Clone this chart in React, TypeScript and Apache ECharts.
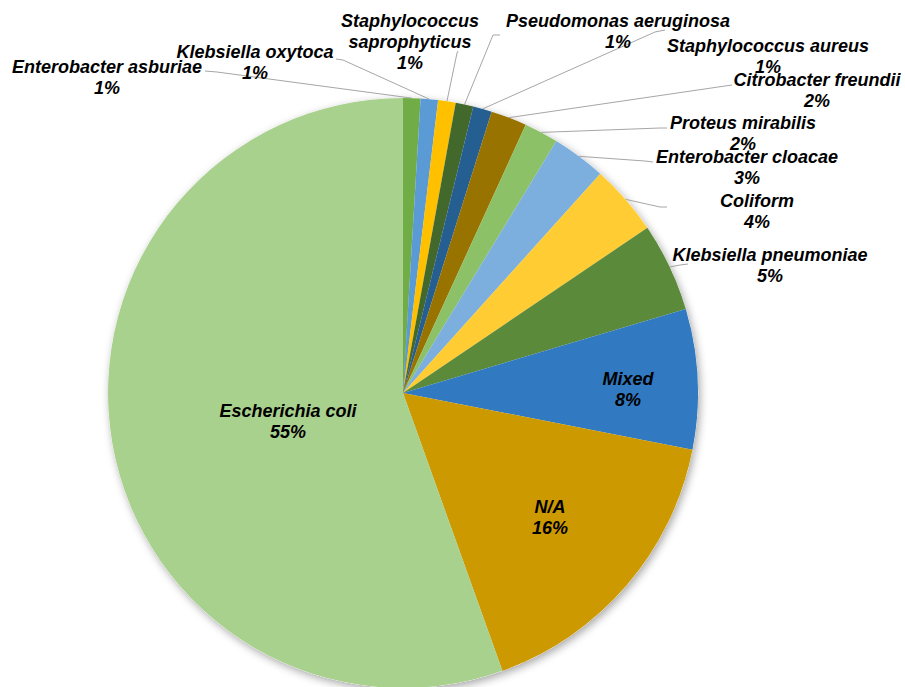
import React, { useEffect, useRef } from 'react';
import * as echarts from 'echarts';

// Organisms, clockwise from 12 o'clock
const categories = [
  'Enterobacter asburiae',
  'Klebsiella oxytoca',
  'Staphylococcus saprophyticus',
  'Pseudomonas aeruginosa',
  'Staphylococcus aureus',
  'Citrobacter freundii',
  'Proteus mirabilis',
  'Enterobacter cloacae',
  'Coliform',
  'Klebsiella pneumoniae',
  'Mixed',
  'N/A',
  'Escherichia coli',
];

// Share of isolates (%)
const values = [0.95, 0.95, 0.96, 0.97, 1.03, 1.97, 1.87, 2.96, 3.88, 4.87, 7.67, 16.45, 55.47];

const colors = [
  '#70AD47', '#5B9BD5', '#FFC000', '#43682B', '#255E91', '#997300', '#8CC168',
  '#7CAFDD', '#FFCD33', '#5A8A3A', '#317AC1', '#CC9900', '#A9D18E',
];

const insideLabels = ['Mixed', 'N/A', 'Escherichia coli'];

// label layout: [centerX, centerY, bendX, bendY, endX, endY]
const labelPlacement: number[][] = [
  [107, 77, 217, 72, 205, 71],
  [255, 62, 343, 60, 336, 59],
  [410, 42, 457, 53, 458, 51],
  [618, 31, 493, 35, 500, 35],
  [768, 56, 655, 32, 665, 30],
  [817, 90, 725, 86, 732, 85],
  [743, 133, 660, 128, 667, 128],
  [747, 167, 645, 161, 653, 162],
  [757, 211, 660, 207, 667, 207],
  [770, 265, 680, 265, 688, 264],
  [628, 389],
  [550, 517],
  [288, 421],
];

const CENTER = [403, 393];
const RADIUS = 295;

const wrapName = (n: string) => (n === 'Staphylococcus saprophyticus' ? 'Staphylococcus\nsaprophyticus' : n);

export default function App() {
  const ref = useRef<HTMLDivElement>(null);
  useEffect(() => {
    const chart = echarts.init(ref.current!, null, { renderer: 'svg' });
    const total = values.reduce((a, b) => a + b, 0);
    const arcMid = (i: number) => {
      let before = 0;
      for (let k = 0; k < i; k++) before += values[k];
      const a = ((before + values[i] / 2) / total) * Math.PI * 2;
      return [CENTER[0] + RADIUS * Math.sin(a), CENTER[1] - RADIUS * Math.cos(a)];
    };
    const data = categories.map((name, i) => {
      const inside = insideLabels.includes(name);
      return {
        name,
        value: values[i],
        itemStyle: { color: colors[i] },
        label: inside ? { position: 'inside' } : { position: 'outside' },
        labelLine: { show: !inside },
      };
    });
    chart.setOption({
      animation: false,
      textStyle: { fontFamily: "'Liberation Sans', Arial, sans-serif" },
      series: [
        {
          type: 'pie',
          silent: true,
          z: 1,
          center: CENTER,
          radius: RADIUS,
          startAngle: 90,
          clockwise: true,
          label: { show: false },
          labelLine: { show: false },
          itemStyle: {
            color: '#ffffff',
            borderWidth: 0,
            shadowBlur: 9,
            shadowOffsetX: 2,
            shadowOffsetY: 3,
            shadowColor: 'rgba(0,0,0,0.35)',
          },
          data: values.map((v, i) => ({ name: categories[i], value: v })),
        },
        {
          type: 'pie',
          z: 2,
          center: CENTER,
          radius: RADIUS,
          startAngle: 90,
          clockwise: true,
          avoidLabelOverlap: false,
          itemStyle: { borderWidth: 0 },
          label: {
            show: true,
            color: '#000000',
            fontFamily: "'Liberation Sans', Arial, sans-serif",
            fontSize: 18,
            fontWeight: 'bold',
            fontStyle: 'italic',
            lineHeight: 21,
            formatter: (p: any) => `${wrapName(p.name)}\n${Math.round(p.percent)}%`,
          },
          labelLine: {
            show: true,
            length: 10,
            length2: 10,
            lineStyle: { color: '#A6A6A6', width: 1 },
          },
          labelLayout: (p: any) => {
            const pl = labelPlacement[p.dataIndex];
            const res: any = { x: pl[0], y: pl[1], align: 'center', verticalAlign: 'middle' };
            if (pl.length > 2) {
              const start = p.labelLinePoints && p.labelLinePoints[0] ? p.labelLinePoints[0] : arcMid(p.dataIndex);
              res.labelLinePoints = [start, [pl[2], pl[3]], [pl[4], pl[5]]];
            }
            return res;
          },
          data,
        },
      ],
    });
    return () => chart.dispose();
  }, []);
  return (
    <div
      ref={ref}
      style={{ position: 'fixed', left: 0, top: 0, width: 905, height: 687, background: '#ffffff' }}
    />
  );
}
